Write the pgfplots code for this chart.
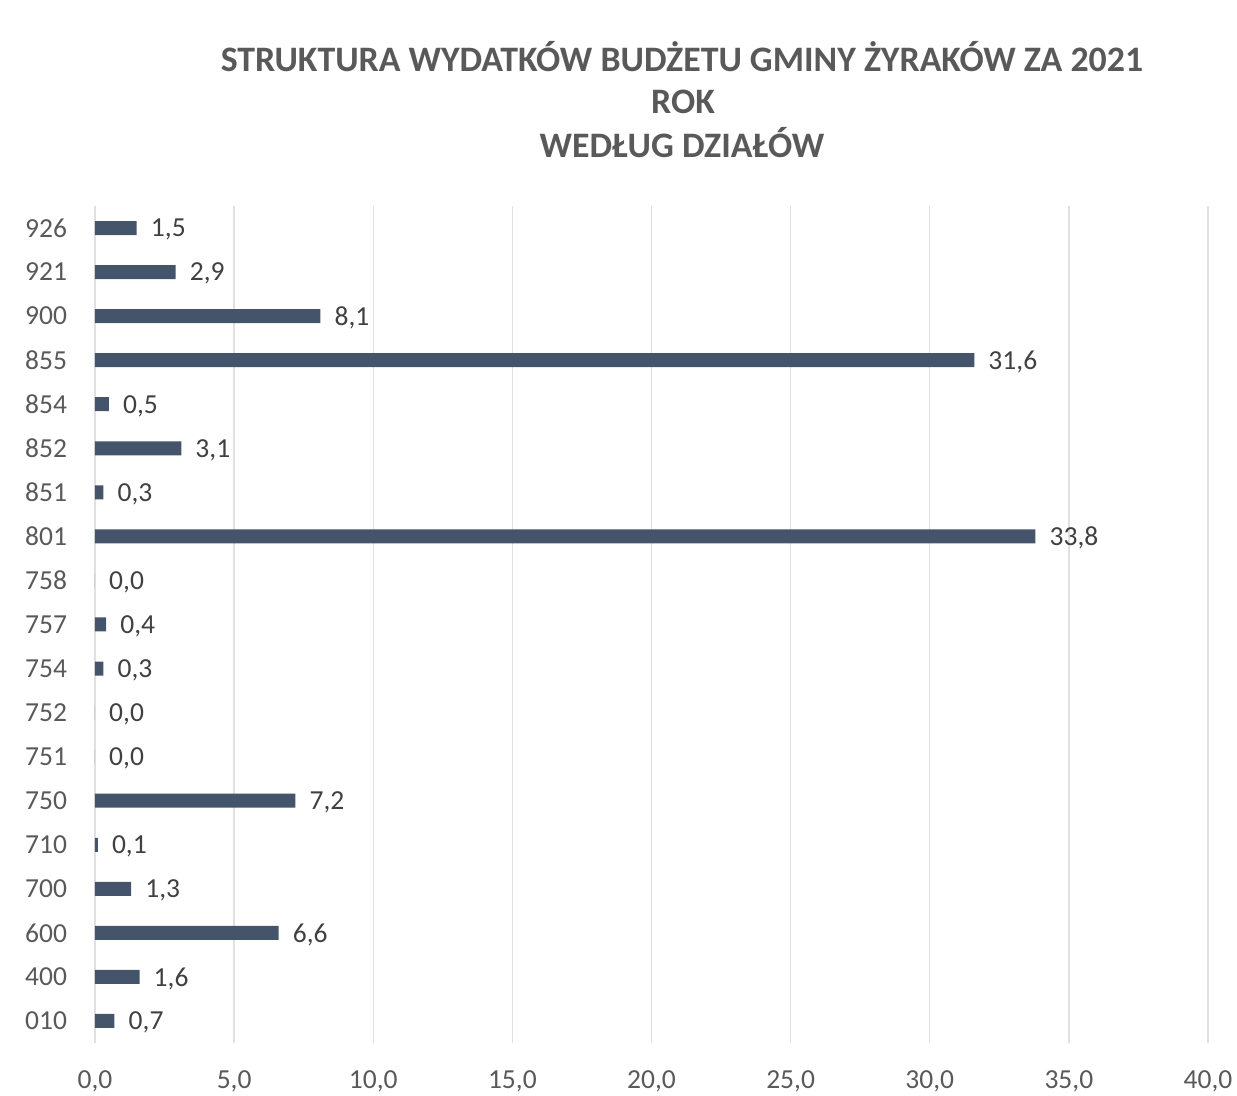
\documentclass[border=0pt]{standalone}
\usepackage{pgfplots}
\pgfplotsset{compat=1.18}
\usepackage{fontspec}
\setmainfont{Carlito}
\definecolor{barc}{HTML}{44546A}
\definecolor{titc}{HTML}{595959}
\definecolor{labc}{HTML}{404040}
\definecolor{gridc}{HTML}{E0E0E0}
\begin{document}
\begin{tikzpicture}
\path[use as bounding box] (-57pt,-31.8pt) rectangle (685.2pt,625.8pt);
\begin{axis}[
  at={(0,0)}, anchor=south west,
  scale only axis, width=667.8pt, height=502.2pt,
  xbar, bar width=8.4pt,
  xmin=0, xmax=40, xtick={0,5,...,40},
  ymin=-0.5, ymax=18.5,
  ytick={0,...,18},
  yticklabels={010,400,600,700,710,750,751,752,754,757,758,801,851,852,854,855,900,921,926},
  axis line style={draw=none},
  tick style={draw=none},
  xmajorgrids, major grid style={gridc, line width=0.8pt},
  /pgf/number format/assume math mode=true,
  xticklabel={\pgfmathprintnumber[fixed,fixed zerofill,precision=1,use comma]{\tick}},
  ticklabel style={font=\fontsize{16.5pt}{18pt}\selectfont, text=titc},
  xticklabel style={yshift=-13pt},
  yticklabel style={xshift=-9pt},
  nodes near coords={\pgfmathprintnumber[fixed,fixed zerofill,precision=1,use comma,assume math mode=true]{\pgfplotspointmeta}},
  nodes near coords style={font=\fontsize{16.5pt}{18pt}\selectfont, text=labc, anchor=west, xshift=5pt, yshift=-1pt},
  clip=false,
]
\addplot[fill=barc, draw=none] coordinates {
(0.7,0) (1.6,1) (6.6,2) (1.3,3) (0.1,4) (7.2,5) (0.0,6) (0.0,7) (0.3,8) (0.4,9)
(0.0,10) (33.8,11) (0.3,12) (3.1,13) (0.5,14) (31.6,15) (8.1,16) (2.9,17) (1.5,18)};
\end{axis}
\begin{scope}[font=\fontsize{21.5pt}{26pt}\selectfont\bfseries, text=titc]
\node[anchor=base] at (352.2pt,582.6pt) {STRUKTURA WYDATKÓW BUDŻETU GMINY ŻYRAKÓW ZA 2021};
\node[anchor=base] at (352.8pt,557.4pt) {ROK};
\node[anchor=base] at (352.2pt,531pt) {WEDŁUG DZIAŁÓW};
\end{scope}
\end{tikzpicture}
\end{document}
